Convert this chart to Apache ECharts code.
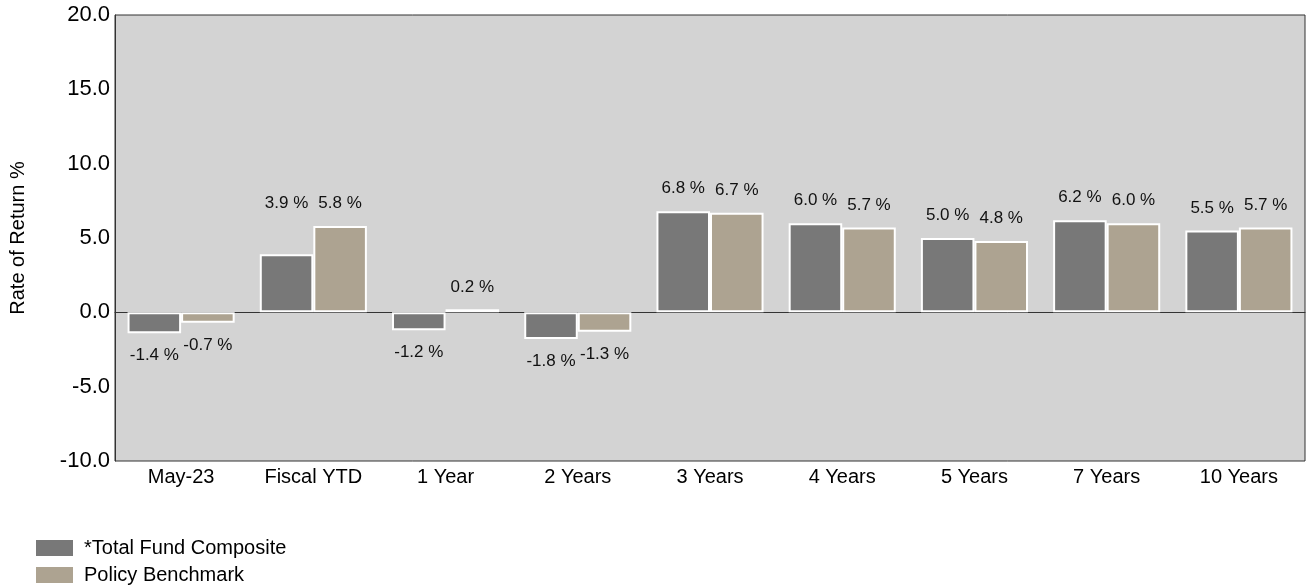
<!DOCTYPE html>
<html><head><meta charset="utf-8">
<script src="https://cdn.jsdelivr.net/npm/echarts@6/dist/echarts.min.js"></script>
<style>html,body{margin:0;padding:0;background:#fff}#c{width:1307px;height:585px}</style>
</head><body><div id="c"></div>
<script>
var categories = ['May-23','Fiscal YTD','1 Year','2 Years','3 Years','4 Years','5 Years','7 Years','10 Years'];
var totalFund = [-1.4, 3.9, -1.2, -1.8, 6.8, 6.0, 5.0, 6.2, 5.5];
var policyBenchmark = [-0.7, 5.8, 0.2, -1.3, 6.7, 5.7, 4.8, 6.0, 5.7];
var seriesNames = ['*Total Fund Composite', 'Policy Benchmark'];
var colors = ['#787878', '#ADA391'];
var FONT = 'Liberation Sans, Arial, sans-serif';

function mkData(vals, si) {
  return vals.map(function (v, i) {
    var lbl = { position: v < 0 ? 'bottom' : 'top' };
    if (si === 0 && i === 1) lbl.offset = [0, -29];
    return { value: v, label: lbl };
  });
}

var chart = echarts.init(document.getElementById('c'));
chart.setOption({
  animation: false,
  textStyle: { fontFamily: FONT },
  grid: { left: 115, right: 2, top: 15, bottom: 124, outerBoundsMode: 'none', containLabel: false, show: true, backgroundColor: '#d3d3d3', borderColor: '#333', borderWidth: 1 },
  legend: {
    orient: 'vertical', left: 34, top: 538, padding: 0, itemWidth: 39, itemHeight: 18, itemGap: 7,
    textStyle: { fontFamily: FONT, fontSize: 20, color: '#000', lineHeight: 18, padding: [0, 0, 0, 5] },
    icon: 'rect',
    data: seriesNames
  },
  xAxis: {
    type: 'category', data: categories,
    axisLine: { lineStyle: { color: '#333', width: 1 } },
    axisTick: { show: false },
    axisLabel: { interval: 0, fontFamily: FONT, fontSize: 20, color: '#000', margin: 6 }
  },
  yAxis: {
    type: 'value', min: -10, max: 20, interval: 5,
    name: 'Rate of Return %', nameLocation: 'middle', nameGap: 87, nameRotate: 90,
    nameTextStyle: { fontFamily: FONT, fontSize: 20, color: '#000' },
    axisLine: { show: true, lineStyle: { color: '#333', width: 1 } },
    axisTick: { show: false },
    axisLabel: { fontFamily: FONT, fontSize: 22, color: '#000', margin: 5, formatter: function (v) { return v.toFixed(1); } },
    splitLine: { show: true, lineStyle: { color: ['transparent', 'transparent', '#555', 'transparent', 'transparent', 'transparent', 'transparent'], width: 1 } }
  },
  series: [totalFund, policyBenchmark].map(function (vals, si) {
    return {
      name: seriesNames[si], type: 'bar', data: mkData(vals, si),
      barGap: '0%', barCategoryGap: '19%',
      itemStyle: { color: colors[si], borderColor: '#fff', borderWidth: 2 },
      label: { show: true, distance: 14, fontFamily: FONT, fontSize: 17, color: '#111',
        formatter: function (p) { return p.value.toFixed(1) + ' %'; } }
    };
  })
});
</script></body></html>
